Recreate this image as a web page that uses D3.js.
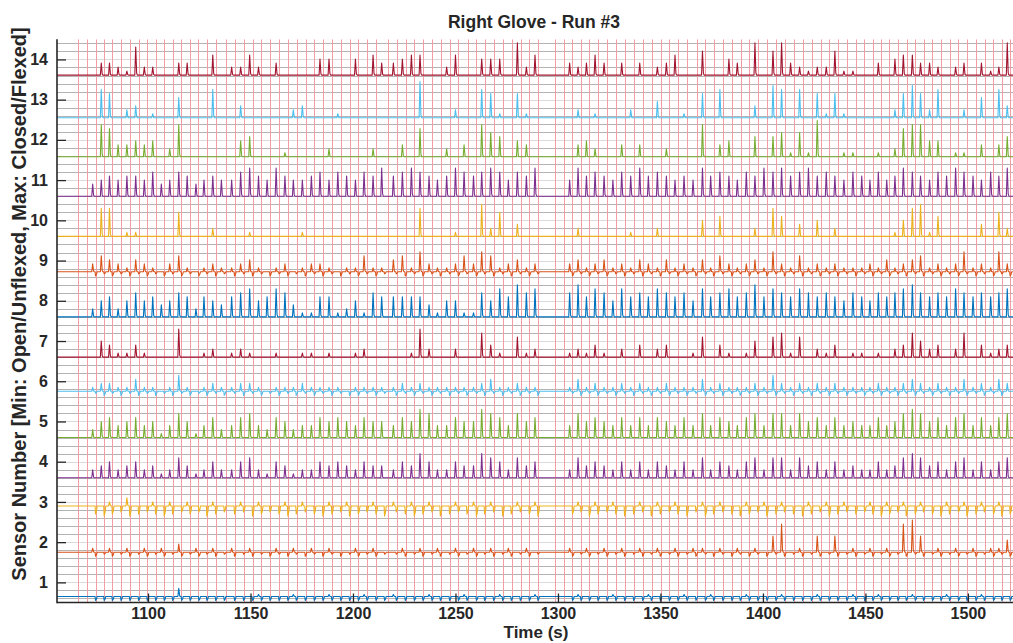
<!DOCTYPE html>
<html><head><meta charset="utf-8">
<script src="https://cdn.jsdelivr.net/npm/d3@7"></script>
<style>
body{margin:0;background:#fff}
text{font-family:"Liberation Sans",Arial,Helvetica,sans-serif;font-weight:bold;fill:#262626}
</style>
</head><body>
<svg id="chart" width="1013" height="643"></svg>
<script>
// ---------------- data ----------------
const chartTitle = "Right Glove - Run #3";
const xLabel = "Time (s)";
const yLabel = "Sensor Number [Min: Open/Unflexed, Max: Closed/Flexed]";
const xTickValues = [1100,1150,1200,1250,1300,1350,1400,1450,1500];
const yTickValues = [1,2,3,4,5,6,7,8,9,10,11,12,13,14];
const timeRange = [1055.6, 1522];

const sensorIds = [1,2,3,4,5,6,7,8,9,10,11,12,13,14];
const sensorColors = ["#0072BD","#D95319","#EDB120","#7E2F8E","#77AC30","#4DBEEE","#A2142F",
                      "#0072BD","#D95319","#EDB120","#7E2F8E","#77AC30","#4DBEEE","#A2142F"];
const sensorBaselines = [0.65,1.75,2.9,3.6,4.6,5.75,6.6,7.6,8.72,9.6,10.6,11.58,12.55,13.61];

// event marker times (red vertical lines), seconds
const eventTimes = [
 1065.7,1070.2,1074.4,1078.4,1082.6,1086.9,1091.2,1095.4,1099.5,1103.7,1107.8,1112.2,1116.3,1120.6,1124.5,1128.8,1133.0,
 1138.0,1142.4,1146.8,1151.1,1155.3,1159.7,1164.0,1168.1,1172.5,1176.9,1181.1,1185.5,1189.8,1194.1,1198.4,1202.6,1207.0,1211.2,
 1216.9,1221.3,1225.7,1229.9,1234.3,1238.4,1242.9,1247.2,1251.4,1256.0,1260.0,1264.4,1268.8,1273.0,1277.4,1281.8,1286.0,1290.4,
 1298.5,1302.9,1307.0,1311.1,1315.3,1319.7,1324.0,1328.3,1332.7,1337.1,1341.3,1345.7,1350.1,1354.3,1358.7,1363.1,
 1367.7,1371.7,1376.2,1380.6,1384.7,1389.1,1393.3,1397.7,1402.1,1406.3,1410.7,1415.1,1419.4,1423.7,1428.1,1432.3,1436.7,1441.1,
 1445.4,1449.4,1453.5,1457.6,1461.6,1465.7,1470.1,1474.1,1478.5,1482.6,1486.8,1491.2,1495.3,1499.7,1503.8,1508.3,1512.3,1516.4,1520.5
];

// spike height after each event, per sensor: '0'-'9' = 0.0..0.9 units, 'p' = 0.05
const peakCodes = [
 /*1*/  "00000000000200000"+"000p000p000p000p00"+"p000p000p000p000p0"+"00p000p000p000p0"+"0p000p000p000p000p"+"00p000p000p000p000p",
 /*2*/  "01010101010201010"+"101001010101001010"+"010101010101010100"+"0101010101010101"+"101010104701040401"+"0101078401010101130",
 /*3*/  "00010200101010010"+"010100101001010010"+"101010010101001010"+"0010101001010100"+"101001010100101010"+"0101010100101010100",
 /*4*/  "02342342312531242"+"245214312243432433"+"243642243365425340"+"0253432424243242"+"524324525525342423"+"2242356534245242452",
 /*5*/  "02453453413641352"+"356325423354543544"+"354763354476536450"+"0364543535354353"+"635435636636453534"+"3353467645356353563",
 /*6*/  "01221131101410121"+"122101112111101111"+"121211111123112110"+"0131211212112111"+"312111214212121211"+"1121123212113121321",
 /*7*/  "00431131000700120"+"121001001101001200"+"001720020063105120"+"0121310203023001"+"503101405615021301"+"1010236423026031231",
 /*8*/  "02452464534652543"+"567457631155124165"+"555531441164758670"+"0685764756576564"+"756756857657656546"+"5465678656576565675",
 /*9*/  "02432132102410121"+"123101201221011411"+"341521124254123120"+"0231231213213121"+"314212315214121211"+"1213123412125121521",
 /*10*/ "00770110000600020"+"001000001000000000"+"000700010082603000"+"0020000010020000"+"405000207503040200"+"0000147815000030620",
 /*11*/ "03454554634653454"+"467547544564654657"+"567654576567646570"+"0475654657565454"+"756546576756756546"+"5464576546576546575",
 /*12*/ "00873343402800000"+"045000100002000020"+"030700203086504300"+"0034200303002000"+"803400505616190011"+"0010278844011030350",
 /*13*/ "00760230100500070"+"030000023000100000"+"000900020076106100"+"0020100020040010"+"607000308707061610"+"0000268627002050730",
 /*14*/ "00332172200330050"+"225203000044004053"+"345500250044408250"+"0323530303023500"+"600430806832122611"+"0030455332023031280"
];
// dip depth after each spike: 'a'..'e' = -0.05..-0.25 units
const dipCodes = [
 /*1*/  "0bbbbbbbbbbbbbbbb"+"bbbbbbbbbbbbbbbbbb"+"bbbbbbbbbbbbbbbbb0"+"0bbbbbbbbbbbbbbb"+"bbbbbbbbbbbbbbbbbb"+"bbbbbbbbbbbbbbbbbbb",
 /*2*/  "0babababababababa"+"bababababababababa"+"ababababababababa0"+"0bababababababab"+"ababababababababab"+"abababababababababa",
 /*3*/  "0dedcedcdedcdcedc"+"dcedcdedcdedcedcde"+"cdedcedcdedcedcde0"+"0dcedcdedcedcdec"+"edcdedcedcdedcedcd"+"cdedcedcdedcedcdedc",
 "", "",
 /*6*/  "0abababababababab"+"abababababababbaba"+"babababababababab0"+"0abababababababa"+"bababababababababa"+"babababababababab",
 "", "",
 /*9*/  "0babababababababa"+"bababababababababa"+"ababababababababa0"+"0bababababababab"+"ababababababababab"+"abababababababababa",
 "", "", "", "", ""
];

// ---------------- chart ----------------
const svg = d3.select("#chart");
const W = 1013, H = 643;
const plot = {left:57, right:1013, top:39.3, bottom:602.5};
const x = d3.scaleLinear().domain(timeRange).range([plot.left, plot.right]);
const y = d3.scaleLinear().domain([0.5, 14.5]).range([plot.bottom, plot.top]);

svg.append("rect").attr("width",W).attr("height",H).attr("fill","#fff");

svg.append("defs").append("clipPath").attr("id","clip")
  .append("rect").attr("x",plot.left).attr("y",plot.top)
  .attr("width",plot.right-plot.left).attr("height",plot.bottom-plot.top);

const g = svg.append("g").attr("clip-path","url(#clip)");

// horizontal grid lines every 0.2
const gridVals = d3.range(6, 145, 2).map(v => v/10);
g.selectAll("line.hg").data(gridVals).enter().append("line")
  .attr("x1",plot.left).attr("x2",plot.right)
  .attr("y1",d=>Math.round(y(d))+0.5).attr("y2",d=>Math.round(y(d))+0.5)
  .attr("stroke",d=> (Math.abs(d-Math.round(d))<1e-6) ? "#dadada" : "#b3b3b3")
  .attr("stroke-width",1);

// event lines
g.selectAll("line.ev").data(eventTimes).enter().append("line")
  .attr("x1",d=>Math.round(x(d))+0.5).attr("x2",d=>Math.round(x(d))+0.5)
  .attr("y1",plot.top).attr("y2",plot.bottom)
  .attr("stroke","#f39ca3").attr("stroke-width",1);

function codeVal(ch){
  if(ch===undefined) return 0;
  if(ch>='0' && ch<='9') return (+ch)*0.1;
  if(ch==='p') return 0.05;
  const k = "abcde".indexOf(ch);
  if(k>=0) return -(k+1)*0.05;
  return 0;
}

const spikeDelay = 2.8;
const line = d3.line().x(d=>x(d[0])).y(d=>y(d[1]));

sensorIds.forEach((s,si)=>{
  const base = sensorBaselines[si];
  const pk = peakCodes[si] || "";
  const dp = dipCodes[si] || "";
  const pts = [[timeRange[0], base]];
  eventTimes.forEach((t0,i)=>{
    const t = t0 + spikeDelay;
    const p = codeVal(pk[i]);
    const d = codeVal(dp[i]);
    if(p>0){
      pts.push([t-0.45, base],[t, base+p],[t+0.45, base+p*0.08],[t+0.8, base]);
    }
    if(d<0){
      pts.push([t+1.2, base],[t+1.4, base+d],[t+1.9, base+d*0.6],[t+2.2, base]);
    }
  });
  pts.push([timeRange[1], base]);
  g.append("path").attr("d", line(pts))
    .attr("fill","none").attr("stroke", sensorColors[si])
    .attr("stroke-width",1.1).attr("stroke-linejoin","round");
});

// axes
const yAxis = d3.axisLeft(y).tickValues(yTickValues).tickSize(-9).tickPadding(9).tickFormat(d3.format("d"));
const xAxis = d3.axisBottom(x).tickValues(xTickValues).tickSize(-9).tickPadding(5).tickFormat(d3.format("d"));

const ya = svg.append("g").attr("transform",`translate(${plot.left},0)`).call(yAxis);
const xa = svg.append("g").attr("transform",`translate(0,${plot.bottom})`).call(xAxis);
[ya,xa].forEach(a=>{
  a.select(".domain").remove();
  a.selectAll(".tick line").attr("stroke","#262626").attr("stroke-width",1.3);
  a.selectAll(".tick text").style("font-size","16px").attr("fill","#262626");
});
svg.append("line").attr("x1",plot.left).attr("x2",plot.left).attr("y1",plot.top).attr("y2",plot.bottom+0.8)
  .attr("stroke","#262626").attr("stroke-width",1.6);
svg.append("line").attr("x1",plot.left).attr("x2",plot.right).attr("y1",plot.bottom).attr("y2",plot.bottom)
  .attr("stroke","#262626").attr("stroke-width",1.6);

svg.append("text").attr("x",(plot.left+plot.right)/2 - 1).attr("y",28)
  .attr("text-anchor","middle").style("font-size","17.5px").text(chartTitle);
svg.append("text").attr("x",(plot.left+plot.right)/2 + 1).attr("y",638)
  .attr("text-anchor","middle").style("font-size","17px").text(xLabel);
svg.append("text").attr("transform",`translate(26,304) rotate(-90)`)
  .attr("text-anchor","middle").style("font-size","20px").text(yLabel);
</script>
</body></html>
